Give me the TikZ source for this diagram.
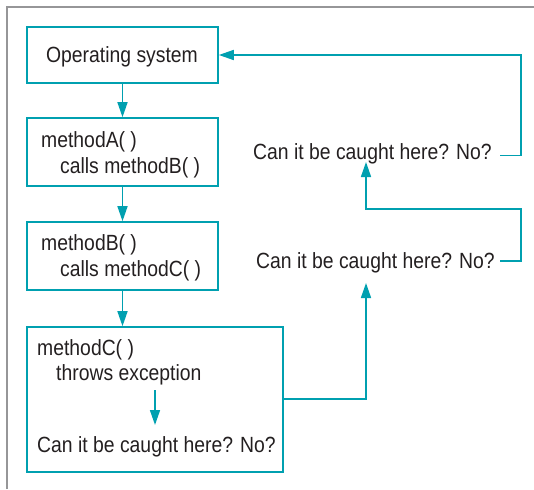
\documentclass[tikz,border=0pt]{standalone}
\usepackage{fontspec}
\setmainfont{Liberation Sans}[FakeStretch=0.88]
\usetikzlibrary{arrows.meta}
\definecolor{teal1}{RGB}{0,160,176}
\definecolor{txt}{RGB}{35,31,32}
\definecolor{frame}{RGB}{150,150,152}
\begin{document}
\begin{tikzpicture}[x=1pt,y=-1pt,
  box/.style={draw=teal1,line width=1.6pt,inner sep=0pt},
  lbl/.style={inner sep=0pt,anchor=base west,text=txt,font=\fontsize{22}{26}\selectfont},
  flow/.style={draw=teal1,line width=1.6pt,-{Triangle[width=10pt,length=15pt]}},
  link/.style={draw=teal1,line width=1.6pt}]
\useasboundingbox (0,0) rectangle (534,489);
% frame
\draw[frame,line width=2pt] (7,489) -- (7,7) -- (534,7);
% boxes
\node[box,minimum width=191pt,minimum height=56pt] (os) at (122.5,55) {};
\node[box,minimum width=191pt,minimum height=68pt] (ma) at (122.5,152) {};
\node[box,minimum width=191pt,minimum height=68pt] (mb) at (122.5,256) {};
\node[box,minimum width=256pt,minimum height=145pt] (mc) at (155,399.5) {};
% texts
\node[lbl,anchor=base] (tos) at (122,63) {Operating system};
\node[lbl] (ta1) at (41,147) {methodA( )};
\node[lbl] (ta2) at (60,173) {calls methodB( )};
\node[lbl] (tb1) at (41,250) {methodB( )};
\node[lbl] (tb2) at (60,276) {calls methodC( )};
\node[lbl] (tc1) at (37,355) {methodC( )};
\node[lbl] (tc2) at (56,380) {throws exception};
\node[lbl] (tc3) at (37,452) {Can it be caught here? No?};
\node[lbl] (q2) at (256,268) {Can it be caught here? No?};
\node[lbl] (q1) at (253,159) {Can it be caught here? No?};
% coordinates
\coordinate (c1) at (155,390);
\coordinate (c2) at (155,425);
\coordinate (r1a) at (500,155.5);
\coordinate (r2a) at (500,261);
\coordinate (t1) at (366,162);
\coordinate (t2) at (366,283);
% arrows
\draw[flow] (os.south) -- (ma.north);
\draw[flow] (ma.south) -- (mb.north);
\draw[flow] (mb.south) -- (mb.south |- mc.north);
\draw[flow] (c1) -- (c2);
\draw[flow] (mc.east |- 0,399) -- (366,399) -- (t2);
\draw[flow] (r2a) -- (521,261) -- (521,209) -- (366,209) -- (t1);
\draw[flow] (r1a) -- (521,155.5) -- (521,55) -- (os.east);
\end{tikzpicture}
\end{document}
